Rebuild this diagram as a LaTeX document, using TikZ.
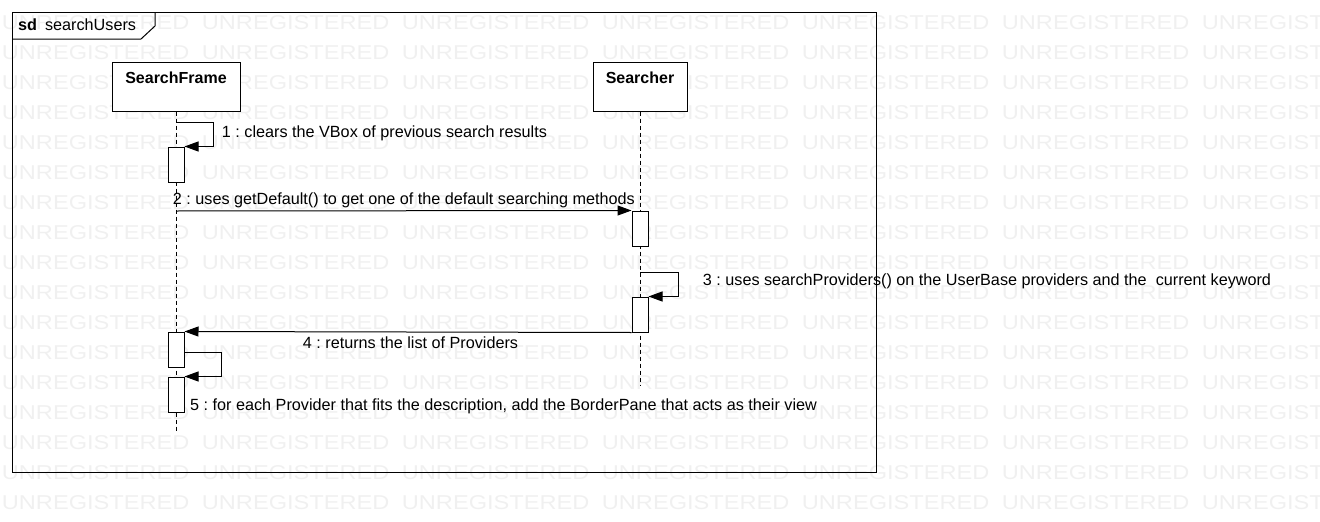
\documentclass[tikz,border=0pt]{standalone}
\usepackage{fontspec}
\setmainfont{Liberation Sans}
\newfontfamily\wmfont[FakeStretch=1.18]{Liberation Sans}
\usetikzlibrary{arrows.meta}
\frenchspacing

\tikzset{
	headbox/.style={draw, line width=1pt, fill=white, minimum height=49pt, inner sep=0pt,
		font=\fontsize{16}{16}\selectfont\bfseries, text height=12pt, text depth=18pt},
	actbox/.style={draw, line width=1pt, fill=white, minimum width=16pt, minimum height=35pt, inner sep=0pt},
	lifeline/.style={line width=1pt, dash pattern=on 4pt off 3pt},
	msg/.style={line width=1pt, -{Triangle[length=14pt,width=10pt]}},
	msglabel/.style={anchor=base west, inner sep=0pt, font=\fontsize{16.2}{16}\selectfont},
	watermark/.style={anchor=base west, inner sep=0pt, text=black!6, font=\wmfont\fontsize{20}{20}\selectfont},
}

\begin{document}
\begin{tikzpicture}[x=1pt,y=-1pt]
				\useasboundingbox (0,0) rectangle (1320,522);

				% watermark
				\begin{scope}
					\clip (0,0) rectangle (1320,522);
					\foreach \r in {0,...,16}
						\foreach \c in {0,...,6}
							\node[watermark] (wm\r\c) at (1.7+200*\c,29.3+30*\r) {UNREGISTERED};
				\end{scope}

				% frame
				\draw[line width=1pt] (12,12) rectangle (876,472);
				\draw[line width=1pt] (12,39) -- (141,39) -- (155,26) -- (155,12);
				\node[msglabel] (sdtag) at (18,30) {\textbf{sd}\hspace{8pt}searchUsers};

				% lifelines
				\coordinate (sfend) at (176,431);
				\coordinate (srend) at (640,385);
				\node[headbox, minimum width=128pt] (sf) at (176,86.5) {SearchFrame};
				\node[headbox, minimum width=94pt] (sr) at (640,86.5) {Searcher};
				\draw[lifeline] (sf.south) -- (sfend);
				\draw[lifeline] (sr.south) -- (srend);

				\node[actbox] (act1) at (176,164.5) {};
				\node[actbox] (act2) at (640,228.5) {};
				\node[actbox] (act3) at (640,314.5) {};
				\node[actbox] (act4) at (176,349.5) {};
				\node[actbox] (act5) at (176,394.5) {};

				% messages
				\coordinate (m1) at (176,122);
				\coordinate (m2) at (176,211);
				\coordinate (m3) at (640,272);
				\coordinate (m5) at (184,352);
				\draw[msg] (m1) -- ++(37,0) |- (act1.north east);
				\draw[msg] (m2) -- (act2.north west);
				\draw[msg] (m3) -- ++(38,0) |- (act3.north east);
				\draw[msg] (act3.south west) -- (act4.north east);
				\draw[msg] (m5) -- ++(37,0) |- (act5.north east);

				\node[msglabel] (l1) at (221.7,137.5) {1 : clears the VBox of previous search results};
				\node[msglabel] (l2) at (172.7,204) {2 : uses getDefault() to get one of the default searching methods};
				\node[msglabel] (l3) at (702.7,285.5) {3 : uses searchProviders() on the UserBase providers and the \ current keyword};
				\node[msglabel] (l4) at (302.7,348.3) {4 : returns the list of Providers};
				\node[msglabel] (l5) at (190,410) {5 : for each Provider that fits the description, add the BorderPane that acts as their view};
			\end{tikzpicture}
\end{document}
